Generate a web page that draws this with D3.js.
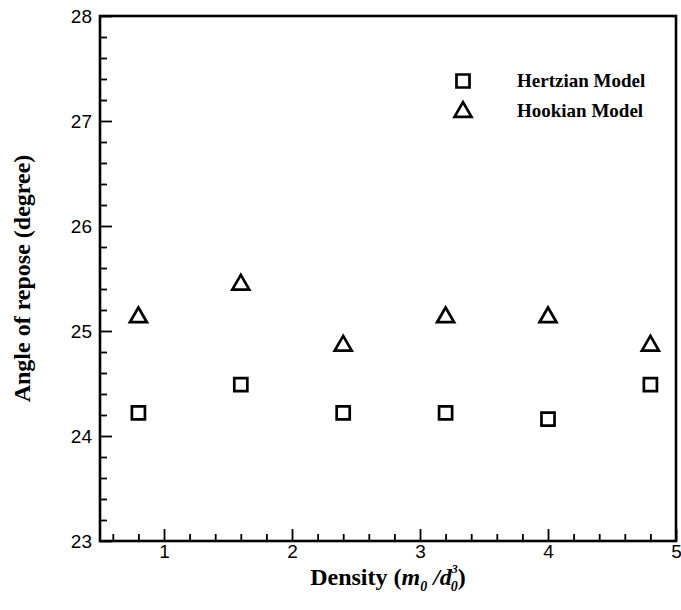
<!DOCTYPE html>
<html><head><meta charset="utf-8">
<script src="https://cdn.jsdelivr.net/npm/d3@7"></script>
<style>body{margin:0;background:#fff}</style>
</head><body>
<script>
const densities = [0.8, 1.6, 2.4, 3.2, 4.0, 4.8];
const hertzian = [24.22, 24.49, 24.22, 24.22, 24.16, 24.49];
const hookian = [25.14, 25.45, 24.87, 25.14, 25.14, 24.87];
const xTicks = [1, 2, 3, 4, 5];
const yTicks = [23, 24, 25, 26, 27, 28];
const seriesNames = ["Hertzian Model", "Hookian Model"];

const W = 681, H = 610;
const m = {l: 100, r: 5, t: 16, b: 69};
const svg = d3.select("body").append("svg").attr("width", W).attr("height", H);
const x = d3.scaleLinear().domain([0.5, 5]).range([m.l, W - m.r]);
const y = d3.scaleLinear().domain([23, 28]).range([H - m.b, m.t]);

const xMinor = d3.range(0.6, 5.0001, 0.2).filter(v => Math.abs(v - Math.round(v)) > 1e-6);
const yMinor = d3.range(23.2, 28, 0.2).filter(v => Math.abs(v - Math.round(v)) > 1e-6);

const g = svg.append("g");
const xa = d3.axisBottom(x).tickValues(xTicks).tickSizeInner(-12).tickSizeOuter(0).tickPadding(4).tickFormat(d3.format("d"));
g.append("g").attr("transform", `translate(0,${y(23)})`).call(xa);
const xm = d3.axisBottom(x).tickValues(xMinor).tickSizeInner(-7).tickSizeOuter(0).tickFormat("");
g.append("g").attr("transform", `translate(0,${y(23)})`).call(xm);
const ya = d3.axisLeft(y).tickValues(yTicks).tickSizeInner(-12).tickSizeOuter(0).tickPadding(8).tickFormat(d3.format("d"));
g.append("g").attr("transform", `translate(${x(0.5)},0)`).call(ya);
const ym = d3.axisLeft(y).tickValues(yMinor).tickSizeInner(-7).tickSizeOuter(0).tickFormat("");
g.append("g").attr("transform", `translate(${x(0.5)},0)`).call(ym);
g.selectAll(".domain").remove();
g.selectAll(".tick line").attr("stroke", "#000").attr("stroke-width", 1.8);
g.selectAll(".tick text").attr("font-family", "Liberation Sans, Arial, sans-serif").attr("font-size", 19).attr("fill", "#000");

svg.append("rect").attr("x", x(0.5)).attr("y", y(28)).attr("width", x(5) - x(0.5)).attr("height", y(23) - y(28))
  .attr("fill", "none").attr("stroke", "#000").attr("stroke-width", 2.6);

const sqPath = d3.symbol(d3.symbolSquare, 170)();
const triPath = d3.symbol(d3.symbolTriangle, 125)();

svg.append("g").selectAll("path").data(densities).join("path")
  .attr("d", sqPath).attr("transform", (d, i) => `translate(${x(d)},${y(hertzian[i])})`)
  .attr("fill", "none").attr("stroke", "#000").attr("stroke-width", 2.7);
svg.append("g").selectAll("path").data(densities).join("path")
  .attr("d", triPath).attr("transform", (d, i) => `translate(${x(d)},${y(hookian[i]) + 1})`)
  .attr("fill", "none").attr("stroke", "#000").attr("stroke-width", 2.7);

const lg = svg.append("g");
lg.append("path").attr("d", sqPath).attr("transform", "translate(463,81)").attr("fill", "none").attr("stroke", "#000").attr("stroke-width", 2.7);
lg.append("path").attr("d", triPath).attr("transform", "translate(463,112)").attr("fill", "none").attr("stroke", "#000").attr("stroke-width", 2.7);
lg.selectAll("text").data(seriesNames).join("text")
  .attr("x", 517).attr("y", (d, i) => 87 + i * 30)
  .attr("font-family", "Liberation Serif, Times New Roman, serif").attr("font-weight", "bold").attr("font-size", 19)
  .text(d => d);

svg.append("text").attr("transform", `translate(30,${(y(23) + y(28)) / 2}) rotate(-90)`).attr("text-anchor", "middle")
  .attr("font-family", "Liberation Serif, Times New Roman, serif").attr("font-weight", "bold").attr("font-size", 24)
  .text("Angle of repose (degree)");

const tx = (x(0.5) + x(5)) / 2;
const xt = svg.append("text").attr("x", tx).attr("y", 585).attr("text-anchor", "middle")
  .attr("font-family", "Liberation Serif, Times New Roman, serif").attr("font-weight", "bold").attr("font-size", 24);
xt.append("tspan").text("Density (");
xt.append("tspan").attr("font-style", "italic").text("m");
xt.append("tspan").attr("font-style", "italic").attr("font-size", 14).attr("dy", 6).text("0");
xt.append("tspan").attr("font-style", "italic").attr("dy", -6).text(" /d");
xt.append("tspan").attr("font-style", "italic").attr("font-size", 12).attr("dy", -12).attr("dx", 0).text("3");
xt.append("tspan").attr("font-style", "italic").attr("font-size", 14).attr("dy", 18).attr("dx", -7).text("0");
xt.append("tspan").attr("dy", -6).text(")");
</script>
</body></html>
